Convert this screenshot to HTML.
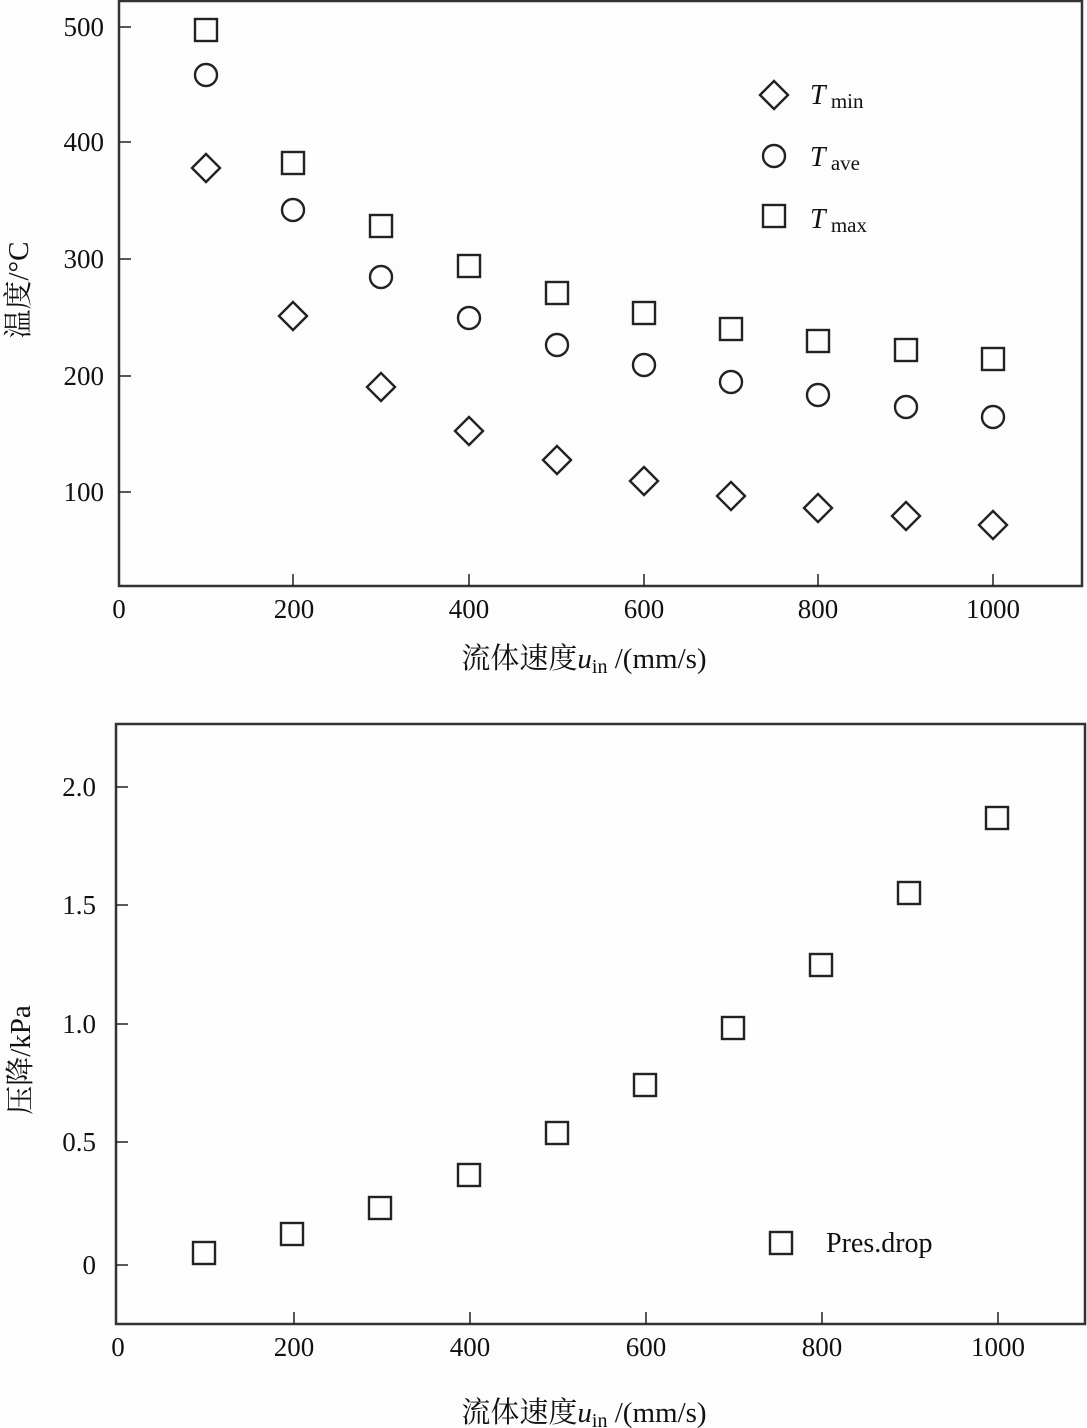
<!DOCTYPE html><html><head><style>body{margin:0;background:#fff}svg{display:block}</style></head><body>
<svg width="1087" height="1428" xmlns="http://www.w3.org/2000/svg" font-family="Liberation Serif, Noto Serif CJK SC, serif" fill="#111">
<rect width="1087" height="1428" fill="#fdfdfd"/>
<g stroke="#333" stroke-width="2.5" fill="none">
<rect x="119" y="1" width="963" height="585"/>
<rect x="116" y="724" width="969" height="600"/>
</g>
<g stroke="#222" stroke-width="1.5">
<path d="M293 586v-12M469 586v-12M644 586v-12M818 586v-12M993 586v-12M119 27h12M119 142h12M119 259h12M119 376h12M119 492h12"/>
<path d="M294 1324v-12M470 1324v-12M646 1324v-12M822 1324v-12M998 1324v-12M116 787h12M116 905h12M116 1024h12M116 1142h12M116 1265h12"/>
</g>
<g font-size="27" text-anchor="end">
<text x="104" y="36">500</text><text x="104" y="151">400</text><text x="104" y="268">300</text><text x="104" y="385">200</text><text x="104" y="501">100</text>
<text x="96" y="796">2.0</text><text x="96" y="914">1.5</text><text x="96" y="1033">1.0</text><text x="96" y="1151">0.5</text><text x="96" y="1274">0</text>
</g>
<g font-size="27" text-anchor="middle">
<text x="119" y="618">0</text><text x="294" y="618">200</text><text x="469" y="618">400</text><text x="644" y="618">600</text><text x="818" y="618">800</text><text x="993" y="618">1000</text>
<text x="118" y="1356">0</text><text x="294" y="1356">200</text><text x="470" y="1356">400</text><text x="646" y="1356">600</text><text x="822" y="1356">800</text><text x="998" y="1356">1000</text>
</g>
<g font-size="29" text-anchor="middle">
<text x="584" y="668">流体速度<tspan font-style="italic">u</tspan><tspan font-size="20" dy="5">in</tspan><tspan dy="-5"> /(mm/s)</tspan></text>
<text x="584" y="1422">流体速度<tspan font-style="italic">u</tspan><tspan font-size="20" dy="5">in</tspan><tspan dy="-5"> /(mm/s)</tspan></text>
<text transform="translate(28 290) rotate(-90)">温度/°C</text>
<text transform="translate(30 1060) rotate(-90)">压降/kPa</text>
</g>
<g stroke="#222" stroke-width="2.4" fill="none">
<rect x="195" y="19" width="22" height="22"/><rect x="282" y="152" width="22" height="22"/><rect x="370" y="215" width="22" height="22"/><rect x="458" y="255" width="22" height="22"/><rect x="546" y="282" width="22" height="22"/><rect x="633" y="302" width="22" height="22"/><rect x="720" y="318" width="22" height="22"/><rect x="807" y="330" width="22" height="22"/><rect x="895" y="339" width="22" height="22"/><rect x="982" y="348" width="22" height="22"/>
<circle cx="206" cy="75" r="11"/><circle cx="293" cy="210" r="11"/><circle cx="381" cy="277" r="11"/><circle cx="469" cy="318" r="11"/><circle cx="557" cy="345" r="11"/><circle cx="644" cy="365" r="11"/><circle cx="731" cy="382" r="11"/><circle cx="818" cy="395" r="11"/><circle cx="906" cy="407" r="11"/><circle cx="993" cy="417" r="11"/>
<path d="M206 154l14 14-14 14-14-14z"/><path d="M293 302l14 14-14 14-14-14z"/><path d="M381 373l14 14-14 14-14-14z"/><path d="M469 417l14 14-14 14-14-14z"/><path d="M557 446l14 14-14 14-14-14z"/><path d="M644 467l14 14-14 14-14-14z"/><path d="M731 482l14 14-14 14-14-14z"/><path d="M818 494l14 14-14 14-14-14z"/><path d="M906 502l14 14-14 14-14-14z"/><path d="M993 511l14 14-14 14-14-14z"/>
<path d="M774 81l14 14-14 14-14-14z"/><circle cx="774" cy="156" r="11"/><rect x="763" y="205" width="22" height="22"/>
<rect x="193" y="1242" width="22" height="22"/><rect x="281" y="1223" width="22" height="22"/><rect x="369" y="1197" width="22" height="22"/><rect x="458" y="1164" width="22" height="22"/><rect x="546" y="1122" width="22" height="22"/><rect x="634" y="1074" width="22" height="22"/><rect x="722" y="1017" width="22" height="22"/><rect x="810" y="954" width="22" height="22"/><rect x="898" y="882" width="22" height="22"/><rect x="986" y="807" width="22" height="22"/>
<rect x="770" y="1232" width="22" height="22"/>
</g>
<g font-size="28">
<text x="810" y="104" font-style="italic">T<tspan font-style="normal" font-size="21" dy="4"> min</tspan></text>
<text x="810" y="166" font-style="italic">T<tspan font-style="normal" font-size="21" dy="4"> ave</tspan></text>
<text x="810" y="228" font-style="italic">T<tspan font-style="normal" font-size="21" dy="4"> max</tspan></text>
<text x="826" y="1252">Pres.drop</text>
</g>
</svg>
</body></html>
